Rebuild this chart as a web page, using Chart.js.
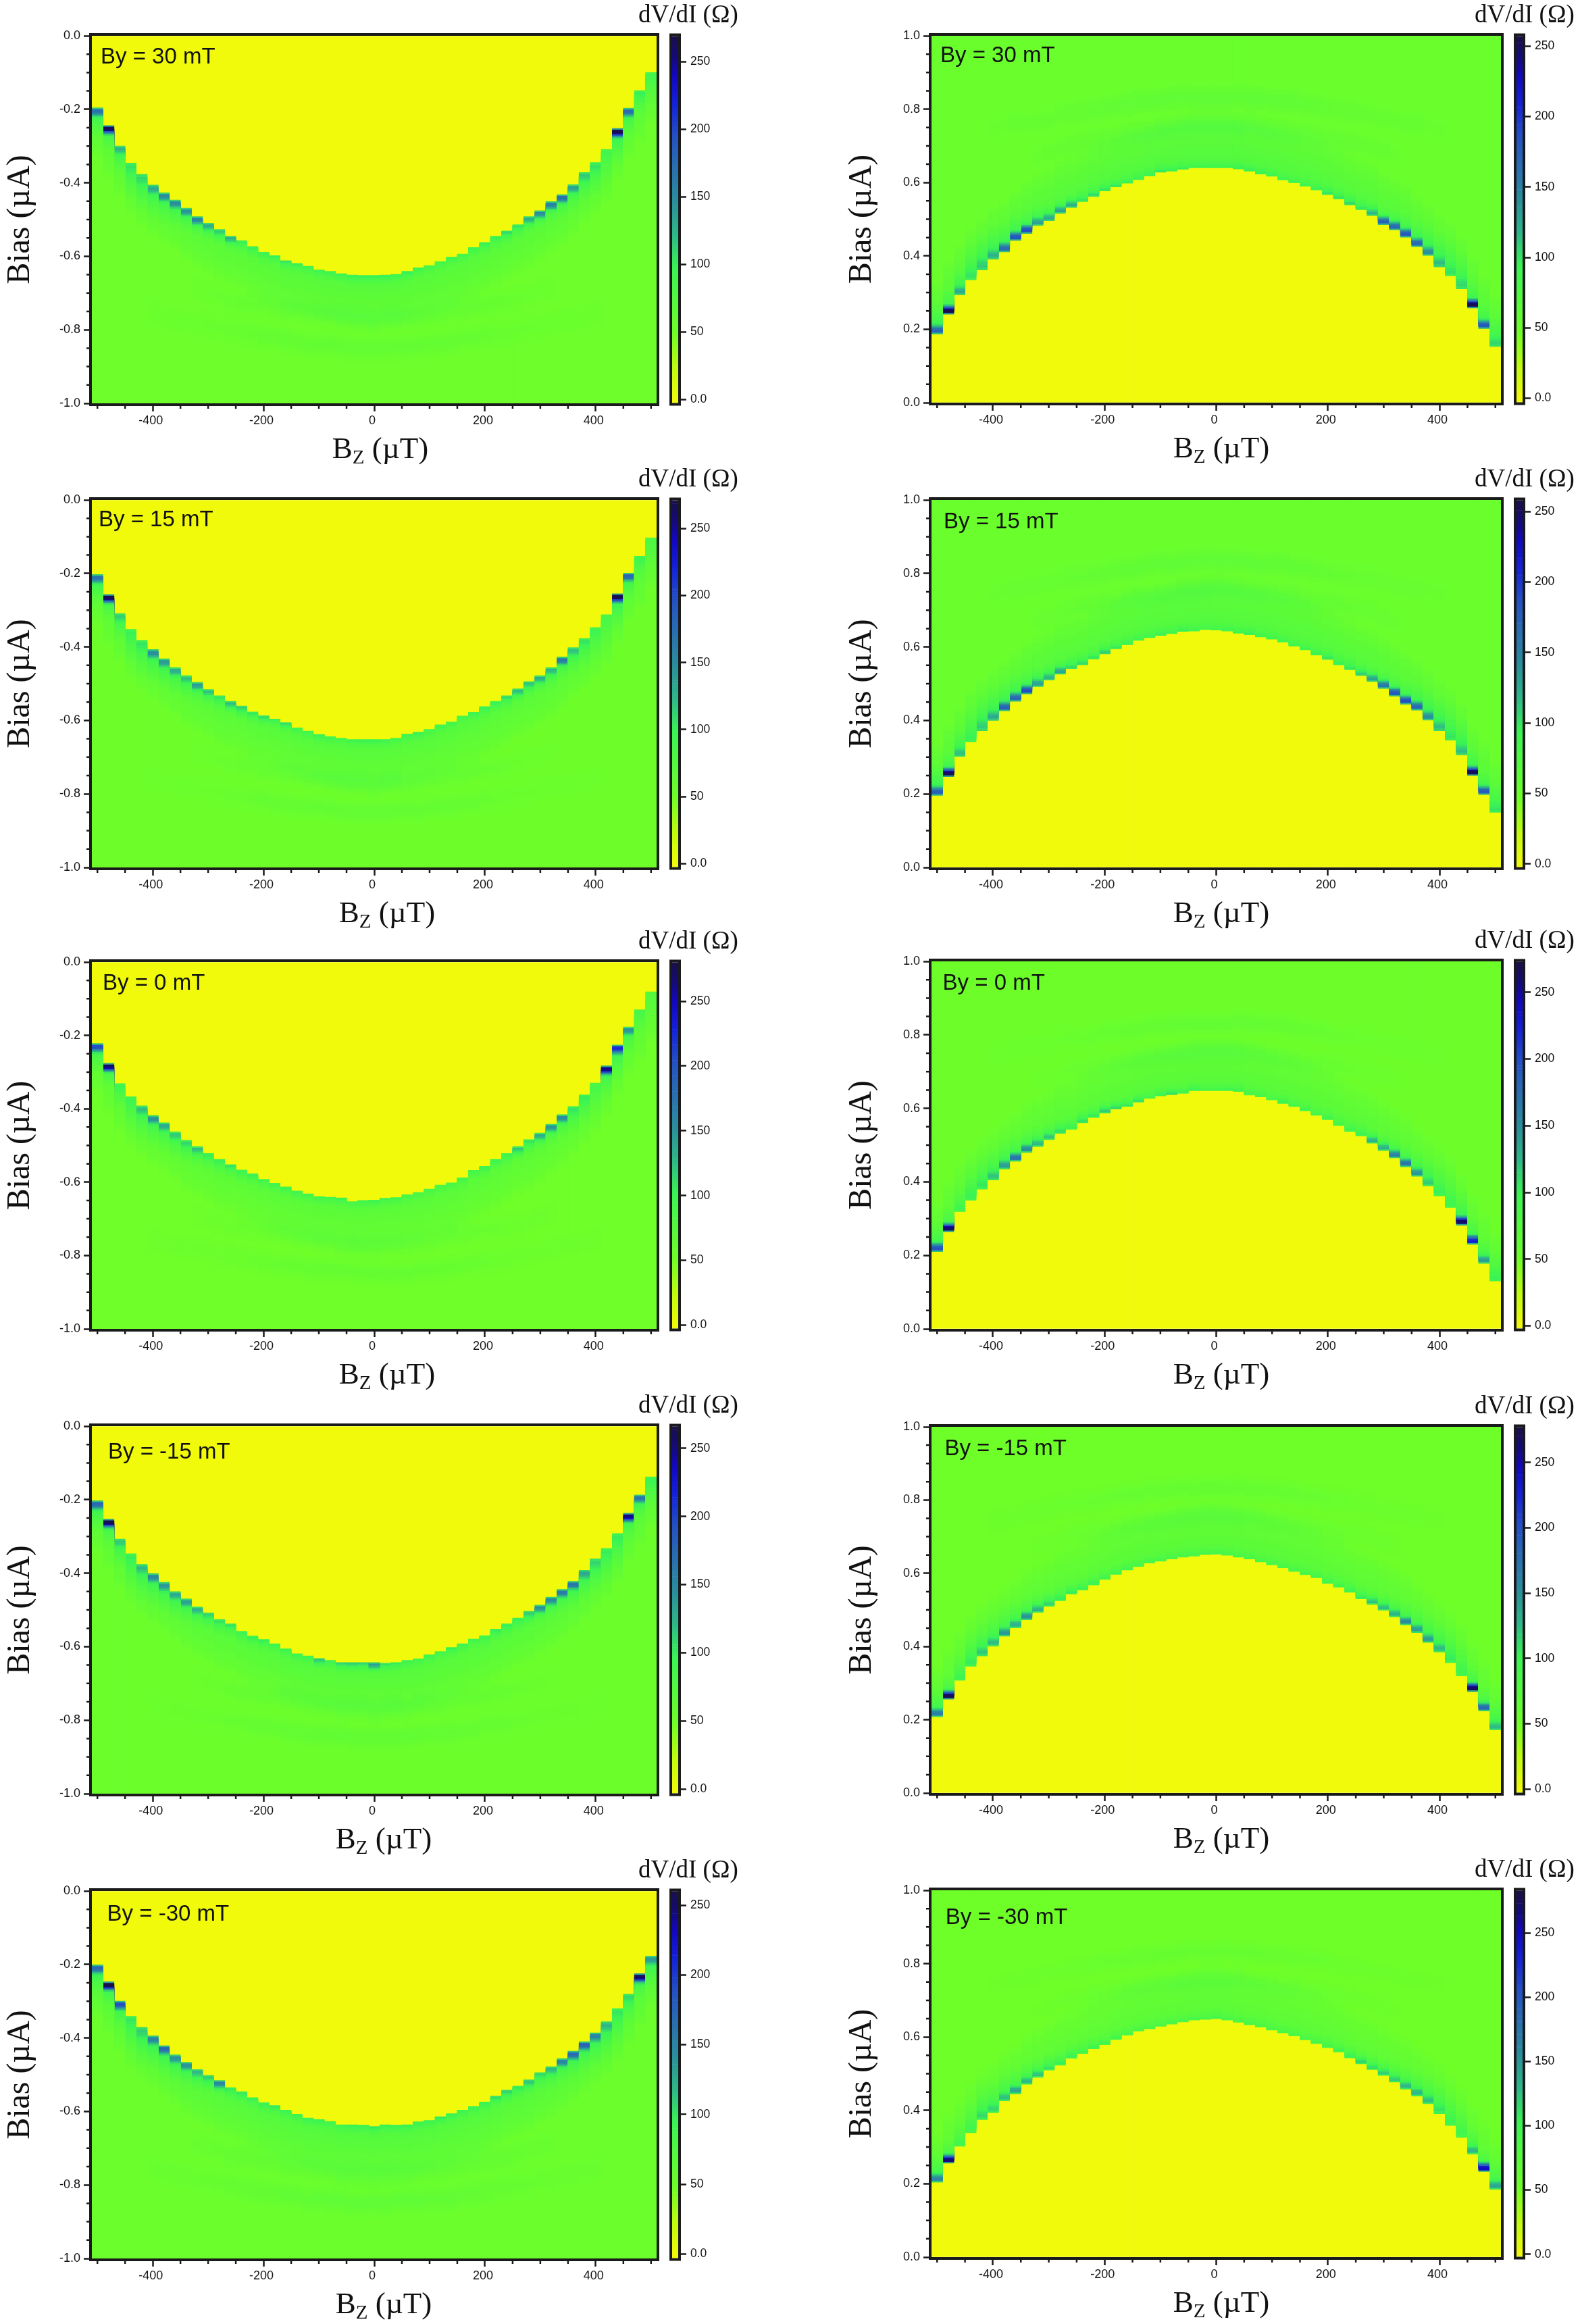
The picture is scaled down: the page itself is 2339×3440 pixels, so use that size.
<!DOCTYPE html>
<html>
<head>
  <meta charset="UTF-8">
  <title>dV/dI maps</title>
  <script src="https://cdn.jsdelivr.net/npm/chart.js"></script>
  <style>
    html, body { margin: 0; padding: 0; background: #fff; }
    #page { position: relative; width: 2339px; height: 3440px; overflow: hidden; }
    canvas { position: absolute; }
    .txt { position: absolute; white-space: nowrap; line-height: 1; color: #111; }
    .by { font-family: "Liberation Sans", sans-serif; font-size: 33px; }
    .cbtitle { font-family: "Liberation Serif", serif; font-size: 37px; }
    .bztitle { font-family: "Liberation Serif", serif; font-size: 45px; }
    .bztitle sub { font-size: 29px; line-height: 0; vertical-align: -8px; }
  </style>
</head>
<body>
  <div id="page"></div>

  <script>
    // Bz column centres (uT)
    const bzValues = [
      -500,-480,-460,-440,-420,-400,-380,-360,-340,-320,
      -300,-280,-260,-240,-220,-200,-180,-160,-140,-120,
      -100,-80,-60,-40,-20,0,20,40,60,80,
      100,120,140,160,180,200,220,240,260,280,
      300,320,340,360,380,400,420,440,460,480,500];

    const bzMajorTicks = [-400,-200,0,200,400];
    const bzMinorTicks = [-500,-450,-350,-300,-250,-150,-100,-50,50,100,150,250,300,350,450,500];
    const negMajorTicks = [0,-0.2,-0.4,-0.6,-0.8,-1];
    const negMinorTicks = [-0.05,-0.1,-0.15,-0.25,-0.3,-0.35,-0.45,-0.5,-0.55,-0.65,-0.7,-0.75,-0.85,-0.9,-0.95];
    const posMajorTicks = [0,0.2,0.4,0.6,0.8,1];
    const posMinorTicks = [0.05,0.1,0.15,0.25,0.3,0.35,0.45,0.5,0.55,0.65,0.7,0.75,0.85,0.9,0.95];
    const colorbarTicks = [0,50,100,150,200,250];

    const byLabels = ['By = 30 mT','By = 15 mT','By = 0 mT','By = -15 mT','By = -30 mT'];

    // critical bias (uA, magnitude) where yellow ends, one per Bz column
    const edgeNeg30 = [
      .196,.244,.30,.346,.377,.406,.427,.447,.469,.492,
      .51,.527,.545,.557,.573,.589,.598,.612,.619,.627,
      .637,.641,.647,.651,.652,.652,.651,.649,.641,.631,
      .625,.614,.602,.594,.576,.562,.545,.531,.514,.492,
      .476,.451,.432,.405,.372,.345,.309,.252,.197,.149,.10];
    const edgeNeg15 = [
      .203,.257,.309,.352,.382,.407,.432,.456,.478,.496,
      .516,.533,.548,.561,.577,.587,.596,.606,.62,.629,
      .638,.644,.648,.652,.652,.652,.652,.648,.637,.632,
      .624,.612,.604,.588,.578,.562,.548,.533,.514,.494,
      .478,.456,.427,.402,.377,.347,.312,.255,.199,.153,.103];
    const edgeNeg0 = [
      .222,.276,.331,.367,.392,.418,.438,.463,.486,.503,
      .522,.538,.552,.567,.577,.592,.603,.613,.624,.632,
      .639,.641,.643,.653,.65,.649,.644,.642,.634,.628,
      .619,.608,.602,.588,.568,.557,.538,.522,.503,.484,
      .466,.442,.416,.394,.362,.33,.283,.226,.177,.13,.081];
    const edgeNegM15 = [
      .203,.253,.307,.347,.376,.401,.425,.45,.47,.492,
      .508,.526,.538,.558,.571,.58,.592,.606,.619,.625,
      .632,.637,.643,.643,.643,.643,.645,.643,.637,.633,
      .622,.613,.602,.592,.579,.57,.552,.538,.522,.504,
      .487,.465,.444,.422,.392,.361,.333,.292,.237,.187,.138];
    const edgeNegM30 = [
      .201,.247,.30,.341,.371,.394,.421,.446,.466,.486,
      .502,.516,.535,.546,.562,.576,.584,.596,.607,.618,
      .622,.627,.636,.636,.637,.641,.636,.637,.636,.628,
      .624,.614,.606,.596,.586,.574,.558,.542,.531,.514,
      .494,.478,.456,.436,.41,.386,.356,.32,.281,.225,.177];
    const edgePos30 = [
      .187,.241,.294,.335,.362,.391,.411,.442,.461,.483,
      .496,.516,.532,.548,.562,.577,.588,.598,.608,.618,
      .628,.631,.636,.64,.64,.64,.64,.637,.631,.623,
      .617,.607,.599,.59,.58,.567,.555,.539,.526,.51,
      .485,.471,.451,.425,.401,.37,.346,.31,.258,.202,.153];
    const edgePos15 = [
      .196,.247,.302,.342,.372,.40,.426,.452,.472,.492,
      .51,.526,.541,.551,.567,.581,.595,.606,.618,.625,
      .631,.636,.642,.643,.647,.646,.643,.637,.633,.627,
      .621,.613,.602,.592,.578,.566,.551,.538,.522,.506,
      .487,.466,.444,.428,.401,.372,.346,.306,.25,.198,.15];
    const edgePos0 = [
      .21,.264,.319,.35,.38,.405,.435,.456,.48,.496,
      .515,.532,.543,.561,.575,.587,.598,.605,.617,.627,
      .634,.637,.641,.648,.648,.648,.648,.646,.636,.631,
      .623,.613,.605,.593,.581,.569,.553,.537,.525,.505,
      .485,.465,.441,.415,.389,.362,.33,.282,.23,.178,.13];
    const edgePosM15 = [
      .208,.256,.308,.346,.374,.401,.428,.451,.473,.493,
      .51,.525,.543,.554,.568,.583,.597,.609,.618,.628,
      .633,.639,.644,.647,.651,.652,.649,.644,.639,.631,
      .623,.615,.605,.596,.588,.572,.562,.548,.53,.515,
      .499,.481,.459,.438,.411,.385,.356,.32,.277,.224,.172];
    const edgePosM30 = [
      .204,.256,.302,.339,.375,.394,.426,.445,.471,.49,
      .51,.523,.542,.555,.568,.579,.593,.605,.616,.622,
      .629,.635,.641,.646,.648,.65,.646,.64,.633,.627,
      .619,.611,.603,.592,.582,.571,.559,.543,.527,.511,
      .495,.477,.458,.439,.418,.391,.359,.326,.281,.233,.185];

    // dV/dI at the switching edge (ohm), one per Bz column
    const peakNeg30 = [
      170,265,125,105,110,130,150,150,145,155,
      130,115,130,100,100,95,100,105,100,95,
      95,95,95,100,100,100,100,95,100,95,
      90,90,95,90,95,100,100,110,105,130,
      150,160,170,135,115,105,90,268,175,100,90];
    const peakNeg15 = [
      170,270,115,100,105,150,140,130,120,140,
      120,105,125,115,105,110,100,110,95,95,
      100,95,90,95,100,100,95,90,95,100,
      90,95,90,90,95,100,100,110,125,120,
      130,125,165,120,105,95,85,272,180,95,80];
    const peakNeg0 = [
      205,270,100,100,125,150,135,120,115,125,
      105,105,110,100,105,95,100,100,100,95,
      95,95,100,90,95,100,95,95,90,90,
      90,90,90,95,95,100,100,100,125,110,
      135,150,155,110,105,90,265,225,150,90,75];
    const peakNegM15 = [
      175,265,115,100,120,150,140,130,135,125,
      110,105,105,95,100,100,95,95,95,95,
      120,95,110,115,110,140,105,100,95,90,
      95,90,100,95,90,95,100,100,100,115,
      145,150,160,165,130,110,100,100,250,165,95];
    const peakNegM30 = [
      170,265,190,100,110,150,170,140,140,120,
      110,150,100,100,95,95,100,95,95,95,
      95,90,90,95,95,100,95,95,95,95,
      95,100,95,95,95,95,105,110,100,115,
      105,120,150,170,175,150,120,100,105,255,135];
    const peakPos30 = [
      170,255,125,100,110,120,165,185,190,130,
      125,130,125,100,105,100,100,95,95,95,
      100,95,95,90,90,90,90,95,95,95,
      90,90,90,90,95,100,100,105,100,120,
      175,170,180,170,140,115,100,105,255,180,105];
    const peakPos15 = [
      175,255,115,95,110,125,175,170,190,130,
      120,130,105,105,100,110,100,95,90,90,
      95,90,95,90,85,85,90,90,95,90,
      90,90,90,90,95,100,95,100,110,130,
      160,185,190,170,140,115,100,115,255,180,100];
    const peakPos0 = [
      195,265,95,100,105,120,140,170,150,125,
      120,110,100,110,105,120,115,105,110,90,
      100,110,95,100,90,90,95,95,90,90,
      85,100,90,95,90,95,90,95,100,130,
      130,160,170,145,115,100,95,265,225,140,100];
    const peakPosM15 = [
      165,275,100,105,120,125,145,130,150,130,
      115,105,105,100,100,95,95,95,90,90,
      90,90,90,90,90,90,90,90,90,90,
      90,90,90,90,95,95,95,100,105,125,
      125,130,155,140,140,125,105,95,270,180,125];
    const peakPosM30 = [
      160,270,95,95,115,115,125,140,130,125,
      110,105,105,95,100,95,100,90,90,90,
      90,90,90,90,90,95,90,90,90,90,
      90,90,90,90,95,95,100,105,120,115,
      120,120,130,130,125,110,100,95,130,250,140];

    // how far the bright tail reaches beyond the edge (uA), per column
    const tailWidths = [
      .09,.07,.08,.11,.11,.10,.09,.08,.07,.06,
      .05,.045,.04,.04,.035,.035,.03,.03,.03,.03,
      .03,.03,.03,.03,.03,.03,.03,.03,.03,.03,
      .03,.03,.03,.03,.03,.035,.035,.04,.04,.045,
      .05,.06,.07,.08,.09,.10,.11,.11,.08,.07,.09];
    const tailShape = [.85,1,.9,.76,.62,.5,.42,.35,.29,.23,.18,.14,.1,.06,.03,0];
    const tailCapOhms = 110;
    // the sharp dark core above the tail, per 0.004 uA of distance
    const coreShape = [.2,1,1,.95,.6,.3,.1];

    // green shoulder above the edge, ohm per 0.008 uA of distance
    const nearEdgeOhms = [72,72,71,70,69,68,67,66,65,64,63,62,61,60,58,56,54,52];

    // the two faint arcs in the normal state
    const arcLower = [
      .58,.59,.60,.61,.62,.63,.64,.65,.66,.67,
      .68,.69,.70,.705,.71,.715,.72,.725,.73,.735,
      .74,.745,.75,.752,.755,.757,.755,.752,.75,.745,
      .74,.735,.73,.725,.72,.715,.71,.705,.70,.69,
      .68,.67,.66,.65,.64,.63,.62,.61,.60,.59,.58];
    const arcUpper = [
      .70,.71,.72,.73,.735,.74,.75,.755,.76,.765,
      .77,.78,.785,.79,.795,.80,.805,.81,.815,.82,
      .822,.825,.827,.829,.83,.83,.83,.829,.827,.825,
      .822,.82,.815,.81,.805,.80,.795,.79,.785,.78,
      .77,.765,.76,.755,.75,.74,.735,.73,.72,.71,.70];
    const arcLowerOhms = [
      0,0,0,0,0,0,0,0,0,2,
      3,4,5,6,6,7,7,8,8,8,
      9,9,10,10,10,10,10,10,9,9,
      8,8,8,7,7,6,6,5,4,3,
      3,2,0,0,0,0,0,0,0,0,0];
    const arcUpperOhms = [
      0,0,0,0,0,2,2,3,3,3,
      4,4,5,5,6,7,7,8,8,8,
      9,9,9,9,9,9,9,9,9,9,
      8,8,8,7,7,6,5,5,4,4,
      3,3,3,3,2,2,0,0,0,0,0];
    const arcBump = [1,.85,.6,.35,.15];

    // colorbar range of each panel (ohm)
    const colorbarTopLeft = [269,271,280,266,260];
    const colorbarTopRight = [257,258,273,277,283];
    const colorbarBottomLeft = [-2.7,-2.5,-2.6,-3,-3];
    const colorbarBottomRight = [-2.8,-2.2,-2,-2.7,-2];

    const colorStops = [
      [0,240,250,10],[25,190,252,16],[50,112,255,40],[100,58,244,84],[125,47,184,136],
      [150,42,143,156],[175,42,111,176],[200,36,80,196],[225,20,32,216],[245,18,8,192],
      [260,20,10,120],[275,26,16,72]];

    // layout
    const rowTopLeft = [53,740,1424,2111,2799];
    const rowBottomLeft = [597,1284,1967,2655,3343];
    const rowTopRight = [53,740,1423,2112,2798];
    const rowBottomRight = [596,1284,1967,2654,3341];
    const byXLeft = [149,146,152,160,158.6], byBaseLeft = [93.7,779.4,1464.6,2159,2843];
    const byXRight = [1392,1397,1395.6,1398.4,1399.8], byBaseRight = [92.4,781.5,1465.4,2153.9,2847.6];
    const bzTitleXLeft = [563,573,573,568,568];
    const bzTitleXRight = [1808,1808,1808,1808,1808];
    const padTop = 16;

    const page = document.getElementById('page');
    const darkInk = '#1a1a1a';
    Chart.defaults.font.family = '"Liberation Sans", sans-serif';
    Chart.defaults.font.size = 18;
    Chart.defaults.color = '#111';

    function colorFor(ohms) {
      const v = Math.max(0, Math.min(275, ohms));
      for (let i = 1; i < colorStops.length; i++) {
        if (v <= colorStops[i][0]) {
          const a = colorStops[i - 1], b = colorStops[i];
          const t = (v - a[0]) / (b[0] - a[0]);
          return `rgb(${Math.round(a[1] + (b[1] - a[1]) * t)},${Math.round(a[2] + (b[2] - a[2]) * t)},${Math.round(a[3] + (b[3] - a[3]) * t)})`;
        }
      }
      return 'rgb(26,16,72)';
    }

    function nearOhms(d) {
      const k = Math.floor(d / 0.008);
      return k < nearEdgeOhms.length ? nearEdgeOhms[k] : 52;
    }

    function bump(dist) {
      return arcBump[Math.floor(Math.abs(dist) / 0.008)] || 0;
    }

    // one column: list of cells, each painted from its start out to the far end
    function columnCells(i, edge, peak, arcShift) {
      const cells = [{ from: 0, ohms: 0 }];
      const w = tailWidths[i];
      let last = null;
      for (let b = edge; b < 1; b += (b - edge < w ? 0.002 : 0.008)) {
        const d = b - edge;
        const n = nearOhms(d)
          + arcLowerOhms[i] * bump(b - arcLower[i] - arcShift)
          + arcUpperOhms[i] * bump(b - arcUpper[i] - arcShift);
        let ohms = n;
        if (d < w) {
          const shape = tailShape[Math.floor(d / w * tailShape.length)] || 0;
          ohms += Math.max(Math.min(peak, tailCapOhms) - n, 0) * shape;
        }
        ohms += Math.max(peak - tailCapOhms, 0) * (coreShape[Math.floor(d / 0.004)] || 0);
        ohms = Math.round(ohms);
        if (ohms !== last) cells.push({ from: b, ohms });
        last = ohms;
      }
      return cells;
    }

    function heatDatasets(edges, peaks, sign, arcShift, top) {
      const layers = [];
      bzValues.forEach((bz, i) => {
        columnCells(i, edges[i], peaks[i], arcShift).forEach((c, k) => {
          if (!layers[k]) layers[k] = { data: [], backgroundColor: [], grouped: false, barPercentage: 1, categoryPercentage: 1 };
          layers[k].data.push({ x: bz, y: [sign * c.from, sign] });
          layers[k].backgroundColor.push(colorFor(c.ohms * 275 / top));
        });
      });
      return layers.reverse(); // first dataset is painted last
    }

    const axisFrame = {
      id: 'axisFrame',
      afterDraw(chart, args, opts) {
        const { ctx, chartArea: a, scales } = chart;
        ctx.save();
        ctx.strokeStyle = darkInk;
        ctx.lineWidth = 2.5;
        ctx.beginPath();
        (opts.minorX || []).forEach(v => {
          const p = scales.x.getPixelForValue(v);
          ctx.moveTo(p, a.bottom);
          ctx.lineTo(p, a.bottom + 8);
        });
        (opts.minorY || []).forEach(v => {
          const p = scales.y.getPixelForValue(v);
          ctx.moveTo(a.left, p);
          ctx.lineTo(a.left - 8, p);
        });
        ctx.stroke();
        ctx.lineWidth = 4;
        ctx.strokeRect(a.left - 2, a.top - 2, a.right - a.left + 4, a.bottom - a.top + 4);
        ctx.restore();
      }
    };

    function addCanvas(left, top, width, height) {
      const c = document.createElement('canvas');
      c.style.left = left + 'px';
      c.style.top = top + 'px';
      c.style.width = width + 'px';
      c.style.height = height + 'px';
      c.width = width;
      c.height = height;
      page.appendChild(c);
      return c.getContext('2d');
    }

    function addText(cls, html, x, y, centered) {
      const d = document.createElement('div');
      d.className = 'txt ' + cls;
      d.innerHTML = html;
      d.style.left = x + 'px';
      d.style.top = y + 'px';
      if (centered) d.style.transform = 'translateX(-50%)';
      page.appendChild(d);
    }

    function drawPanel(p) {
      const plotW = p.right - p.left, plotH = p.bottom - p.top;
      const neg = p.sign < 0;
      new Chart(addCanvas(p.left - p.axisW, p.top - padTop, p.axisW + plotW + 6, plotH + padTop + 60), {
        type: 'bar',
        data: { datasets: heatDatasets(p.edges, p.peaks, p.sign, p.arcShift, p.cbTop) },
        plugins: [axisFrame],
        options: {
          responsive: false,
          animation: false,
          devicePixelRatio: 1,
          events: [],
          layout: { autoPadding: false, padding: { top: padTop, right: 6, left: 0, bottom: 0 } },
          plugins: {
            legend: { display: false },
            tooltip: { enabled: false },
            axisFrame: { minorX: bzMinorTicks, minorY: neg ? negMinorTicks : posMinorTicks }
          },
          scales: {
            x: {
              type: 'linear',
              offset: false,
              min: -510,
              max: 510,
              border: { display: false },
              grid: { drawOnChartArea: false, offset: false, tickLength: 12, tickWidth: 2.5, tickColor: darkInk },
              ticks: { padding: 3, maxRotation: 0, autoSkip: false, labelOffset: -3, callback: v => v },
              afterBuildTicks: s => { s.ticks = bzMajorTicks.map(value => ({ value })); },
              afterFit: s => { s.height = 60; }
            },
            y: {
              type: 'linear',
              min: neg ? -1 : 0,
              max: neg ? 0 : 1,
              border: { display: false },
              grid: { drawOnChartArea: false, tickLength: 12, tickWidth: 2.5, tickColor: darkInk },
              ticks: { padding: 5, autoSkip: false, callback: v => v.toFixed(1) },
              title: {
                display: true,
                text: 'Bias (µA)',
                padding: 0,
                color: '#111',
                font: { family: '"Liberation Serif", serif', size: 48, lineHeight: 1 }
              },
              afterBuildTicks: s => { s.ticks = (neg ? negMajorTicks : posMajorTicks).map(value => ({ value })); },
              afterFit: s => { s.width = p.axisW; }
            }
          }
        }
      });

      // colorbar
      const levels = [];
      for (let v = p.cbBottom; v < p.cbTop + 2; v += 2) levels.push(v);
      new Chart(addCanvas(p.cbLeft - 5, p.top - padTop, 5 + 9 + 60, plotH + 2 * padTop), {
        type: 'bar',
        data: {
          datasets: [{
            data: levels.map(v => ({ y: v, x: [0, 1] })),
            backgroundColor: levels.map(v => colorFor(v * 275 / p.cbTop)),
            barPercentage: 1,
            categoryPercentage: 1
          }]
        },
        plugins: [axisFrame],
        options: {
          indexAxis: 'y',
          responsive: false,
          animation: false,
          devicePixelRatio: 1,
          events: [],
          layout: { autoPadding: false, padding: { top: padTop, bottom: padTop, left: 5, right: 0 } },
          plugins: { legend: { display: false }, tooltip: { enabled: false }, axisFrame: {} },
          scales: {
            x: { type: 'linear', display: false, min: 0, max: 1 },
            y: {
              type: 'linear',
              position: 'right',
              offset: false,
              min: p.cbBottom,
              max: p.cbTop,
              border: { display: false },
              grid: { drawOnChartArea: false, offset: false, tickLength: 12, tickWidth: 2.5, tickColor: darkInk },
              ticks: { padding: 6, autoSkip: false, font: { size: 17.5 }, callback: v => v === 0 ? '0.0' : v },
              afterBuildTicks: s => { s.ticks = colorbarTicks.map(value => ({ value })); },
              afterFit: s => { s.width = 60; }
            }
          }
        }
      });

      addText('by', p.label, p.byX, p.byBase - 33 * 0.8465);
      addText('cbtitle', 'dV/dI (Ω)', p.cbTitleX, p.top - 20 - 37 * 0.8375);
      addText('bztitle', 'B<sub>Z</sub> (µT)', p.bzX, p.bottom + 82 - 45 * 0.8375, true);
    }

    const edgesLeft = [edgeNeg30, edgeNeg15, edgeNeg0, edgeNegM15, edgeNegM30];
    const peaksLeft = [peakNeg30, peakNeg15, peakNeg0, peakNegM15, peakNegM30];
    const edgesRight = [edgePos30, edgePos15, edgePos0, edgePosM15, edgePosM30];
    const peaksRight = [peakPos30, peakPos15, peakPos0, peakPosM15, peakPosM30];

    byLabels.forEach((label, r) => {
      drawPanel({
        label, sign: -1, edges: edgesLeft[r], peaks: peaksLeft[r], arcShift: 0.014,
        left: 136, right: 972, top: rowTopLeft[r], bottom: rowBottomLeft[r], axisW: 130,
        cbLeft: 995, cbTop: colorbarTopLeft[r], cbBottom: colorbarBottomLeft[r], cbTitleX: 945,
        byX: byXLeft[r], byBase: byBaseLeft[r], bzX: bzTitleXLeft[r]
      });
      drawPanel({
        label, sign: 1, edges: edgesRight[r], peaks: peaksRight[r], arcShift: 0,
        left: 1379, right: 2222, top: rowTopRight[r], bottom: rowBottomRight[r], axisW: 127,
        cbLeft: 2245, cbTop: colorbarTopRight[r], cbBottom: colorbarBottomRight[r], cbTitleX: 2183,
        byX: byXRight[r], byBase: byBaseRight[r], bzX: bzTitleXRight[r]
      });
    });
  </script>
</body>
</html>
